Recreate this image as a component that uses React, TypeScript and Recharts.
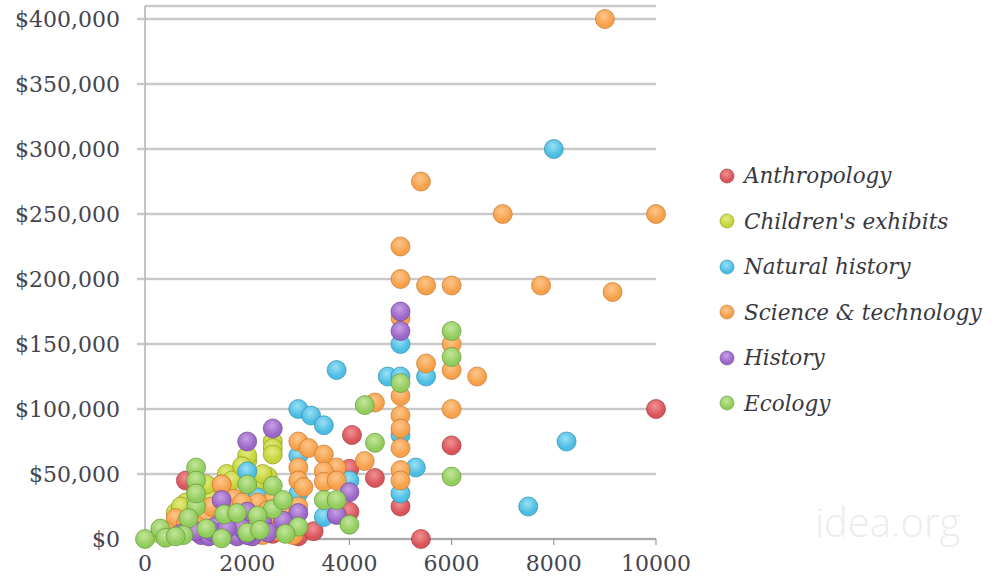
import { CartesianGrid, Scatter, ScatterChart, XAxis, YAxis } from 'recharts'

// [visitors, cost] pairs
const anthropology = [
  [800, 45000], [4050, 80000], [4500, 47000], [5000, 25000], [5400, 0], [6000, 72000], [10000, 100000],
  [4000, 54000], [4000, 21000], [2500, 4000], [2300, 8000], [2700, 12000], [1500, 2000], [3000, 2000],
  [3300, 6000], [2900, 14000], [1800, 6000], [2600, 9000], [2000, 12000],
]
const childrens = [
  [2000, 60000], [2000, 64000], [2500, 75000], [2500, 70000], [2500, 65000], [1600, 50000], [1700, 45000],
  [1250, 36000], [1000, 36000], [600, 20000], [1300, 30000], [1900, 56000], [2400, 48000], [1500, 42000],
  [800, 28000], [300, 4000], [2200, 44000], [700, 25000], [1200, 42000], [1400, 25000], [2300, 50000],
  [1000, 30000],
]
const naturalHistory = [
  [8000, 300000], [8250, 75000], [7500, 25000], [3750, 130000], [4750, 125000], [5000, 125000], [5500, 125000],
  [5000, 150000], [3000, 100000], [3250, 95000], [3500, 87500], [5300, 55000], [5000, 35000], [5000, 80000],
  [4000, 45000], [3000, 64000], [3000, 35000], [3500, 17000], [2000, 52000], [2200, 32000], [2600, 22000],
  [2100, 14000], [1500, 8000],
]
const science = [
  [9000, 400000], [5400, 275000], [7000, 250000], [10000, 250000], [5000, 225000], [5000, 200000], [5500, 195000],
  [6000, 195000], [7750, 195000], [9150, 190000], [5000, 170000], [6000, 150000], [6000, 130000], [6500, 125000],
  [5500, 135000], [5000, 110000], [5000, 95000], [5000, 85000], [5000, 70000], [5000, 53000], [5000, 45000],
  [4500, 105000], [6000, 100000], [4300, 60000], [3000, 75000], [3200, 70000], [3500, 65000], [3750, 55000],
  [3500, 52000], [3500, 44000], [3750, 45000], [3000, 55000], [3000, 45000], [3100, 40000], [2750, 25000],
  [1500, 42000], [1750, 31000], [1200, 17000], [600, 16000], [2500, 30000], [2200, 28000], [2800, 12000],
  [2400, 15000], [2000, 20000], [1600, 12000], [2600, 6000], [2300, 3000], [3000, 25000], [1000, 10000],
  [400, 6000], [2900, 3000], [1300, 25000], [1800, 15000], [2100, 10000], [2700, 18000], [1900, 28000],
  [800, 12000], [2400, 22000],
]
const history = [
  [5000, 175000], [5000, 160000], [2500, 85000], [2000, 75000], [1500, 30000], [4000, 36000], [3750, 18500],
  [3000, 20000], [2000, 21000], [1100, 3000], [1250, 2000], [1470, 3000], [1650, 4000], [1800, 2000],
  [1900, 8000], [2100, 2000], [1400, 10000], [2300, 12000], [2700, 14000], [700, 4000], [1300, 6000],
  [1600, 8000], [2000, 3000], [2400, 5000], [1000, 6000],
]
const ecology = [
  [6000, 160000], [6000, 140000], [5000, 120000], [4300, 103000], [4500, 74000], [6000, 48000], [1000, 55000],
  [1000, 45000], [1000, 25000], [850, 16000], [1550, 19000], [1800, 20000], [2000, 42000], [2500, 41000],
  [2500, 23000], [2200, 18000], [3500, 30000], [3750, 30000], [4000, 11000], [3000, 9500], [2750, 4000],
  [2000, 5000], [2250, 7000], [0, 0], [300, 8000], [400, 1000], [750, 3000], [1000, 35000], [1200, 8000],
  [2700, 30000], [1500, 500], [600, 2000],
]

const seriesNames = ['Anthropology', "Children's exhibits", 'Natural history', 'Science & technology', 'History', 'Ecology']
const seriesData = [anthropology, childrens, naturalHistory, science, history, ecology]

const xTicks = [0, 2000, 4000, 6000, 8000, 10000]
const yTicks = [0, 50000, 100000, 150000, 200000, 250000, 300000, 350000, 400000]

const COLORS = [
  { base: '#d9545a', light: '#f09194', rim: '#a23c40' },
  { base: '#c6d336', light: '#e3ec84', rim: '#8f9a20' },
  { base: '#4cbde2', light: '#98e0f5', rim: '#2f8fb0' },
  { base: '#f6a04a', light: '#fcc68c', rim: '#c7782e' },
  { base: '#9b66c6', light: '#c7a0e4', rim: '#6f4498' },
  { base: '#92cc5c', light: '#c3e69b', rim: '#639a3a' },
]

const FONT = '"DejaVu Serif", serif'
const TEXT = '#45454f'

function money(v: number) {
  return `$${v.toLocaleString('en-US')}`
}

function ball(index: number, r: number) {
  return (props: any) => {
    const { cx, cy } = props
    if (cx == null || cy == null) return <g />
    return (
      <circle
        cx={cx}
        cy={cy}
        r={r}
        fill={`url(#ball-${index})`}
        stroke={COLORS[index].rim}
        strokeOpacity={0.7}
        strokeWidth={1}
      />
    )
  }
}

export default function App() {
  return (
    <div style={{ position: 'absolute', left: 0, top: 0, width: 1000, height: 582, background: '#fff' }}>
      <ScatterChart width={1000} height={582} margin={{ top: 6, right: 344, bottom: 0, left: 0 }}>
        <defs>
          {COLORS.map((c, i) => (
            <radialGradient key={i} id={`ball-${i}`} cx="45%" cy="35%" r="70%">
              <stop offset="0%" stopColor={c.light} />
              <stop offset="70%" stopColor={c.base} />
              <stop offset="100%" stopColor={c.base} />
            </radialGradient>
          ))}
        </defs>
        <CartesianGrid vertical={false} stroke="#c9c9c9" strokeWidth={2.5} />
        <XAxis
          type="number"
          dataKey="x"
          domain={[0, 10000]}
          ticks={xTicks}
          height={43}
          tickSize={6}
          tickMargin={10}
          stroke="#8a8a8a"
          tick={{ fill: TEXT, fontFamily: FONT, fontSize: 22 }}
        />
        <YAxis
          type="number"
          dataKey="y"
          domain={[0, 410000]}
          ticks={yTicks}
          width={145}
          tickSize={8}
          tickMargin={17}
          stroke="#8a8a8a"
          tickLine={{ stroke: '#c9c9c9', strokeWidth: 2.5 }}
          tickFormatter={money}
          tick={{ fill: TEXT, fontFamily: FONT, fontSize: 22 }}
        />
        {seriesData.map((pts, i) => (
          <Scatter
            key={seriesNames[i]}
            name={seriesNames[i]}
            data={pts.map(([x, y]) => ({ x, y }))}
            fill={COLORS[i].base}
            shape={ball(i, 9.5)}
            isAnimationActive={false}
          />
        ))}
      </ScatterChart>

      <div style={{ position: 'absolute', left: 718, top: 153 }}>
        {seriesNames.map((name, i) => (
          <div key={name} style={{ display: 'flex', alignItems: 'center', height: 45.5 }}>
            <svg width={18} height={18} style={{ marginRight: 8 }}>
              <circle cx={9} cy={9} r={7} fill={`url(#ball-${i})`} stroke={COLORS[i].rim} strokeOpacity={0.6} />
            </svg>
            <span style={{ fontFamily: FONT, fontStyle: 'italic', fontSize: 21.5, color: '#38383f', whiteSpace: 'nowrap' }}>
              {name}
            </span>
          </div>
        ))}
      </div>

      <div
        style={{
          position: 'absolute',
          left: 815,
          top: 494,
          fontFamily: '"Open Sans", sans-serif',
          fontWeight: 300,
          fontSize: 40,
          color: '#ededed',
        }}
      >
        idea.org
      </div>
    </div>
  )
}
